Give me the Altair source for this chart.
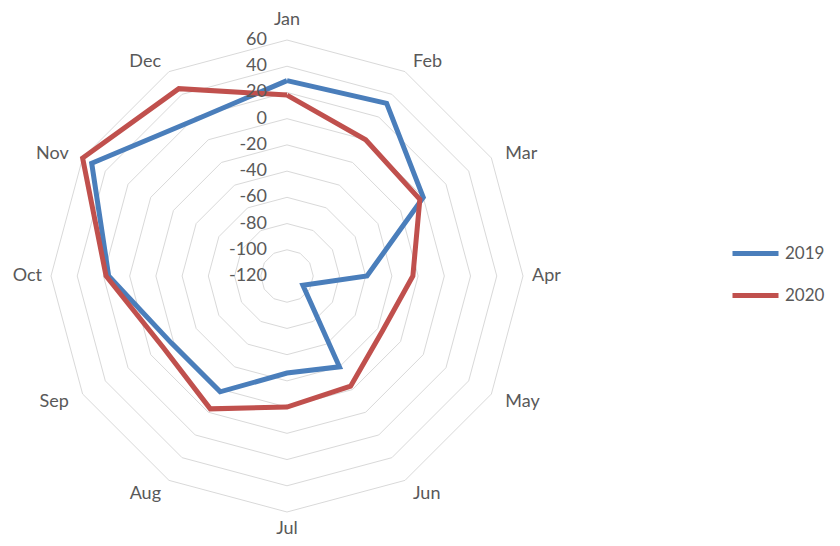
import altair as alt
import pandas as pd

# ---------------- data ----------------
months = ["Jan", "Feb", "Mar", "Apr", "May", "Jun", "Jul", "Aug", "Sep", "Oct", "Nov", "Dec"]
series_2019 = [29, 32, 0, -59, -106, -40, -46, -18, -18, 16, 52, 18]
series_2020 = [18, 0, -3, -24, -36, -23, -20, -3, -11, 18, 60, 45]
years = ["2019", "2020"]
ring_levels = [-100, -80, -60, -40, -20, 0, 20, 40, 60]
tick_levels = [-120, -100, -80, -60, -40, -20, 0, 20, 40, 60]
r_min = -120
r_max = 60

# ---------------- layout ----------------
W, H = 824, 530
PX = 236 / (r_max - r_min)      # pixels per unit
CX, CY = 279, 268               # centre of radar in plot pixels
xdom = [-CX / PX, (W - CX) / PX]
ydom = [-(H - CY) / PX, CY / PX]
LABEL_R = 252 / PX
SIDE_R = 245 / PX
TOP_R = 256 / PX
BOT_R = 253 / PX
UPPER_DY = 4 / PX
colors = ["#4A7EBB", "#C0504D"]
text_color = "#595959"
FONT = "Lato"
FS = 18

# ---------------- tables ----------------
n = len(months)
rows = []
for yname, vals in zip(years, [series_2019, series_2020]):
    for i in range(n + 1):
        rows.append({"series": yname, "idx": i % n, "ord": i, "value": vals[i % n]})
series_df = pd.DataFrame(rows)

ring_rows = []
for lv in ring_levels:
    for i in range(n + 1):
        ring_rows.append({"level": lv, "idx": i % n, "ord": i, "value": lv})
ring_df = pd.DataFrame(ring_rows)

tick_df = pd.DataFrame({"value": tick_levels, "idx": 0, "label": [str(t) for t in tick_levels]})
month_df = pd.DataFrame({"month": months, "idx": list(range(n))})

calc = dict(
    theta="datum.idx * PI / 6",
    rr=f"datum.value - ({r_min})",
    x="datum.rr * sin(datum.theta)",
    y="datum.rr * cos(datum.theta)",
)

X = alt.X("x:Q", scale=alt.Scale(domain=xdom, nice=False, zero=False), axis=None)
Y = alt.Y("y:Q", scale=alt.Scale(domain=ydom, nice=False, zero=False), axis=None)

rings = alt.Chart(ring_df).transform_calculate(**calc).mark_line(
    color="#D9D9D9", strokeWidth=1
).encode(x=X, y=Y, detail="level:N", order="ord:Q")

lines = alt.Chart(series_df).transform_calculate(**calc).mark_line(
    strokeWidth=5
).encode(
    x=X, y=Y, order="ord:Q",
    color=alt.Color(
        "series:N",
        scale=alt.Scale(domain=years, range=colors),
        legend=alt.Legend(
            title=None, orient="none", legendX=722, legendY=220,
            symbolType="stroke", symbolStrokeWidth=5, symbolSize=2116,
            labelFontSize=17, labelColor=text_color, labelFont=FONT,
            rowPadding=6, labelOffset=4,
        ),
    ),
)

ticks = alt.Chart(tick_df).transform_calculate(**calc).mark_text(
    align="right", baseline="middle", dx=-20, fontSize=FS, color=text_color, font=FONT
).encode(x=X, y=Y, text="label:N")

mcalc = dict(
    theta="datum.idx * PI / 6",
    lr=(f"datum.idx == 0 ? {TOP_R} : (datum.idx == 6 ? {BOT_R} : "
        f"((datum.idx == 3 || datum.idx == 9) ? {SIDE_R} : {LABEL_R}))"),
    x="datum.lr * sin(datum.theta)",
    y=(f"datum.lr * cos(datum.theta) - "
       f"((datum.idx == 1 || datum.idx == 2 || datum.idx == 10 || datum.idx == 11) ? {UPPER_DY} : 0)"),
)
mbase = alt.Chart(month_df).transform_calculate(**mcalc)
mstyle = dict(fontSize=FS, color=text_color, font=FONT)
m_right = mbase.transform_filter("datum.idx >= 1 && datum.idx <= 5").mark_text(
    align="left", baseline="middle", **mstyle).encode(x=X, y=Y, text="month:N")
m_left = mbase.transform_filter("datum.idx >= 7").mark_text(
    align="right", baseline="middle", **mstyle).encode(x=X, y=Y, text="month:N")
m_vert = mbase.transform_filter("datum.idx == 0 || datum.idx == 6").mark_text(
    align="center", baseline="middle", **mstyle).encode(x=X, y=Y, text="month:N")

chart = alt.layer(rings, lines, ticks, m_right, m_left, m_vert).properties(
    width=W, height=H, background="white",
    padding={"top": 0, "bottom": 0, "left": 0, "right": 0},
    autosize=alt.AutoSizeParams(type="none"),
).configure_view(stroke=None)

chart.save("out.html", embed_options={"renderer": "svg", "actions": False})
